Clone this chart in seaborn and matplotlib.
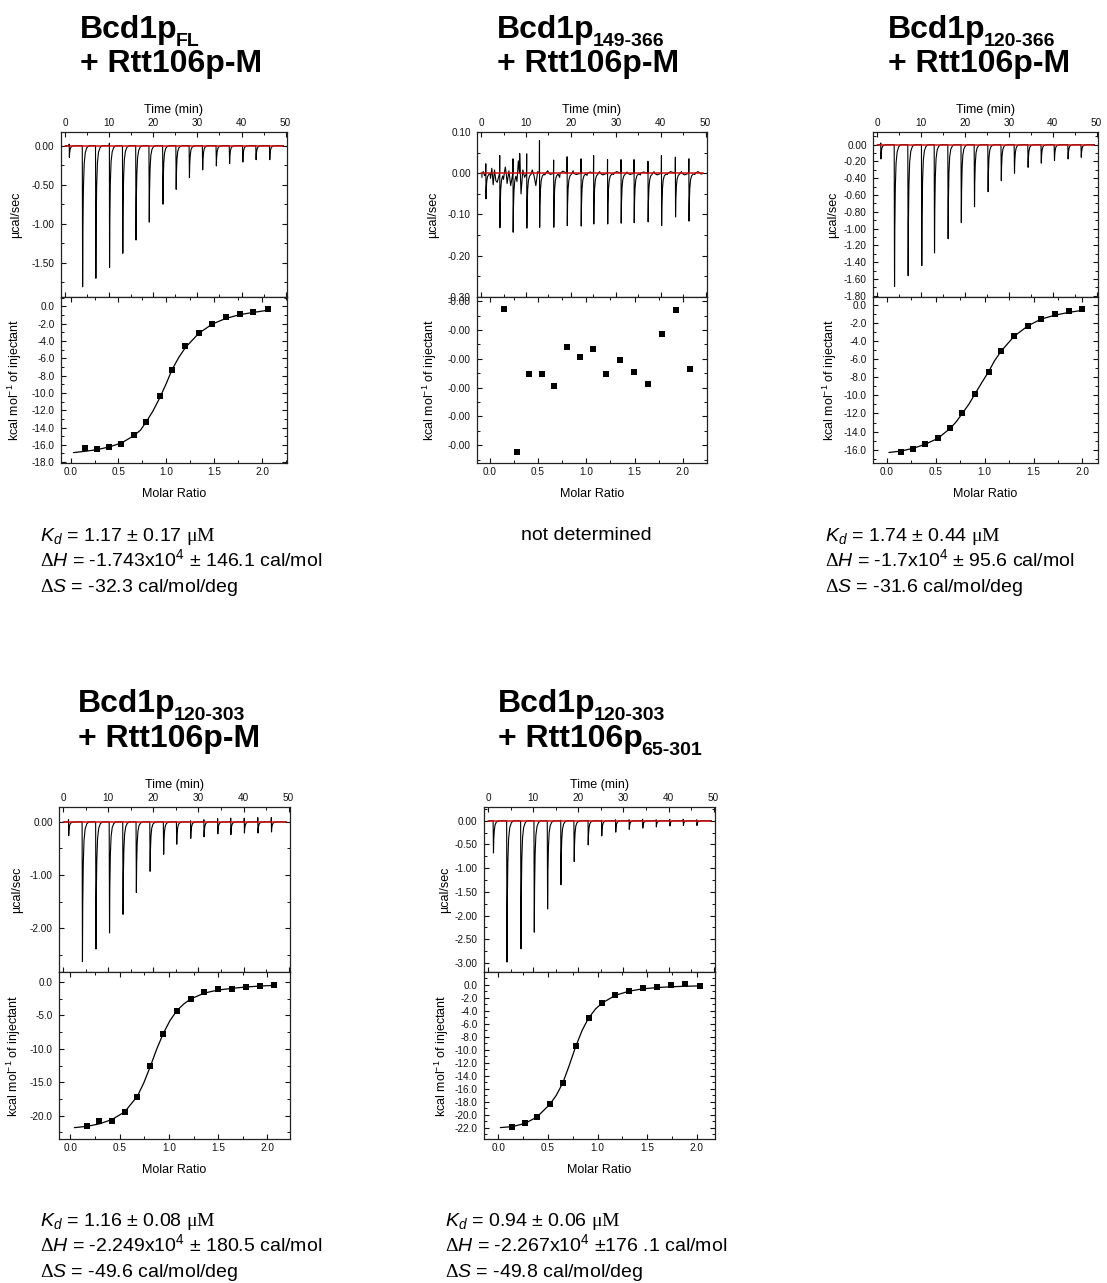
import numpy as np
import pandas as pd
import matplotlib
matplotlib.use("Agg")
import matplotlib.pyplot as plt
import seaborn as sns
from matplotlib.ticker import MultipleLocator, FixedLocator, FormatStrFormatter

# ======================= DATA =======================
# --- Panel A: Bcd1p_FL + Rtt106p-M
A_inj_time = [1.0, 4.0, 7.0, 10.1, 13.1, 16.1, 19.1, 22.2, 25.2, 28.2, 31.2, 34.3, 37.3, 40.3, 43.3, 46.4]
A_inj_peak = [-0.15, -1.81, -1.70, -1.56, -1.38, -1.21, -0.98, -0.75, -0.56, -0.41, -0.31, -0.26, -0.23, -0.21, -0.18, -0.18]
A_inj_up = [0.02, 0, 0, 0.03, 0, 0, 0, 0, 0, 0, 0, 0, 0, 0, 0, 0]
A_ratio = [0.15, 0.28, 0.40, 0.53, 0.66, 0.79, 0.93, 1.06, 1.20, 1.34, 1.48, 1.62, 1.77, 1.91, 2.06]
A_heat = [-16.4, -16.5, -16.2, -15.9, -14.9, -13.4, -10.4, -7.3, -4.6, -3.1, -2.0, -1.2, -0.9, -0.65, -0.27]
A_fit_ratio = [0.03, 0.15, 0.28, 0.40, 0.53, 0.66, 0.73, 0.79, 0.86, 0.93, 1.00, 1.06, 1.13, 1.20, 1.34, 1.48, 1.62, 1.77, 1.91, 2.06]
A_fit_heat = [-16.9, -16.75, -16.55, -16.25, -15.8, -14.95, -14.3, -13.35, -12.1, -10.6, -8.9, -7.3, -5.9, -4.75, -3.1, -2.05, -1.4, -0.95, -0.7, -0.45]

# --- Panel B: Bcd1p_149-366 + Rtt106p-M (no binding)
B_inj_time = [1.1, 4.2, 7.15, 10.2, 13.05, 16.2, 19.2, 22.3, 25.1, 28.2, 31.2, 34.1, 37.2, 40.2, 43.3, 46.3]
B_inj_peak = [-0.062, -0.132, -0.143, -0.133, -0.131, -0.131, -0.127, -0.128, -0.123, -0.123, -0.121, -0.120, -0.118, -0.127, -0.106, -0.116]
B_inj_up = [0.023, 0.043, 0.035, 0.047, 0.079, 0.032, 0.040, 0.035, 0.043, 0.033, 0.033, 0.033, 0.029, 0.043, 0.039, 0.035]
B_noise = [(0.2, -0.010), (0.5, 0.004), (0.8, -0.006),
           (1.5, -0.030), (1.8, 0.010), (2.1, -0.012), (2.4, 0.012), (2.7, -0.028), (3.0, 0.008), (3.3, -0.018), (3.6, -0.022),
           (4.6, 0.010), (5.0, -0.015), (5.4, 0.015), (5.8, -0.025), (6.2, 0.006), (6.6, -0.030),
           (7.6, 0.010), (8.0, -0.020), (8.3, 0.030), (8.6, 0.048), (8.9, -0.050), (9.3, 0.008), (9.7, -0.010),
           (10.6, 0.006), (11.0, -0.004), (11.4, 0.008), (11.8, -0.006), (12.2, -0.030), (12.6, 0.004),
           (13.6, 0.005), (14.2, -0.004), (14.8, 0.006), (15.4, -0.003),
           (16.8, 0.004), (17.5, -0.010), (18.2, 0.005),
           (19.8, -0.004), (20.5, 0.006), (21.2, -0.003),
           (22.9, 0.004), (23.6, -0.005), (24.3, 0.003),
           (25.7, -0.003), (26.4, 0.004), (27.1, -0.004),
           (28.8, 0.003), (29.5, -0.003), (30.2, 0.004),
           (31.8, -0.004), (32.5, 0.003), (33.2, -0.003),
           (34.8, 0.004), (35.5, -0.004), (36.2, 0.003),
           (37.8, -0.003), (38.5, 0.004), (39.2, -0.004),
           (40.8, 0.003), (41.5, -0.003), (42.2, 0.004),
           (43.9, -0.008), (44.6, 0.004), (45.3, -0.004),
           (46.9, 0.003), (47.6, -0.003), (48.3, 0.004), (49.0, -0.002)]
B_ratio = [0.15, 0.28, 0.405, 0.54, 0.67, 0.80, 0.94, 1.07, 1.21, 1.35, 1.49, 1.64, 1.78, 1.93, 2.07]
B_heat = [-0.000126, -0.000623, -0.000352, -0.000352, -0.000395, -0.000259, -0.000293, -0.000265,
          -0.000351, -0.000303, -0.000347, -0.000387, -0.000212, -0.000130, -0.000335]

# --- Panel C: Bcd1p_120-366 + Rtt106p-M
C_inj_time = [0.9, 4.0, 7.1, 10.2, 13.1, 16.2, 19.2, 22.2, 25.3, 28.3, 31.3, 34.4, 37.4, 40.4, 43.5, 46.5]
C_inj_peak = [-0.17, -1.69, -1.56, -1.44, -1.29, -1.12, -0.93, -0.74, -0.56, -0.43, -0.34, -0.27, -0.22, -0.19, -0.17, -0.15]
C_inj_up = [0.02, 0, 0, 0, 0, 0, 0, 0, 0, 0, 0, 0, 0, 0, 0, 0]
C_ratio = [0.14, 0.265, 0.39, 0.52, 0.646, 0.77, 0.90, 1.04, 1.17, 1.30, 1.44, 1.575, 1.72, 1.86, 2.0]
C_heat = [-16.2, -15.9, -15.4, -14.75, -13.6, -12.0, -9.8, -7.4, -5.1, -3.5, -2.3, -1.6, -1.0, -0.7, -0.48]
C_fit_ratio = [0.02, 0.14, 0.265, 0.39, 0.52, 0.646, 0.71, 0.77, 0.84, 0.90, 0.97, 1.04, 1.10, 1.17, 1.30, 1.44, 1.575, 1.72, 1.86, 2.0]
C_fit_heat = [-16.3, -16.15, -15.85, -15.4, -14.75, -13.65, -12.9, -12.0, -10.95, -9.85, -8.6, -7.4, -6.2, -5.1, -3.5, -2.35, -1.6, -1.15, -0.85, -0.62]

# --- Panel D: Bcd1p_120-303 + Rtt106p-M
D_inj_time = [1.25, 4.3, 7.3, 10.3, 13.3, 16.25, 19.3, 22.3, 25.2, 28.3, 31.25, 34.3, 37.2, 40.2, 43.2, 46.2]
D_inj_peak = [-0.26, -2.63, -2.39, -2.09, -1.74, -1.33, -0.93, -0.61, -0.42, -0.31, -0.28, -0.225, -0.24, -0.21, -0.21, -0.19]
D_inj_up = [0.04, 0, 0, 0, 0, 0, 0, 0, 0, 0.02, 0.04, 0.06, 0.07, 0.07, 0.08, 0.08]
D_ratio = [0.17, 0.29, 0.42, 0.55, 0.68, 0.81, 0.94, 1.08, 1.22, 1.36, 1.50, 1.64, 1.78, 1.93, 2.07]
D_heat = [-21.55, -20.85, -20.85, -19.45, -17.15, -12.6, -7.8, -4.4, -2.6, -1.5, -1.05, -1.0, -0.8, -0.6, -0.5]
D_fit_ratio = [0.04, 0.17, 0.29, 0.42, 0.55, 0.68, 0.745, 0.81, 0.875, 0.94, 1.01, 1.08, 1.15, 1.22, 1.36, 1.50, 1.64, 1.78, 1.93, 2.07]
D_fit_heat = [-21.8, -21.6, -21.25, -20.6, -19.45, -17.1, -15.1, -12.7, -10.1, -7.8, -5.8, -4.3, -3.3, -2.55, -1.65, -1.2, -0.95, -0.75, -0.6, -0.5]

# --- Panel E: Bcd1p_120-303 + Rtt106p_65-301
E_inj_time = [1.2, 4.2, 7.3, 10.25, 13.2, 16.15, 19.1, 22.2, 25.2, 28.3, 31.3, 34.3, 37.3, 40.3, 43.3, 46.3]
E_inj_peak = [-0.68, -2.98, -2.70, -2.35, -1.86, -1.35, -0.86, -0.51, -0.32, -0.24, -0.18, -0.155, -0.13, -0.11, -0.10, -0.10]
E_inj_up = [0, 0, 0, 0, 0, 0.01, 0, 0.01, 0.01, 0.02, 0.02, 0.03, 0.02, 0.03, 0.03, 0.02]
E_ratio = [0.14, 0.27, 0.39, 0.52, 0.65, 0.78, 0.91, 1.045, 1.18, 1.32, 1.455, 1.60, 1.74, 1.88, 2.03]
E_heat = [-21.95, -21.3, -20.35, -18.4, -15.1, -9.4, -5.1, -2.8, -1.5, -0.88, -0.41, -0.26, -0.05, 0.1, -0.1]
E_fit_ratio = [0.02, 0.14, 0.27, 0.39, 0.52, 0.585, 0.65, 0.715, 0.78, 0.845, 0.91, 0.98, 1.045, 1.18, 1.32, 1.455, 1.60, 1.74, 1.88, 2.03]
E_fit_heat = [-22.0, -21.85, -21.35, -20.35, -18.4, -17.0, -15.1, -12.4, -9.5, -7.0, -5.1, -3.7, -2.8, -1.6, -0.95, -0.6, -0.4, -0.28, -0.2, -0.15]

BASELINE_TIME = [0.0, 49.5]
BASELINE_POWER = [0.0, 0.0]

# injection peak shape template (style)
PEAK_DT = [-0.08, 0.0, 0.06, 0.18, 0.35, 0.6, 0.95, 1.4]
PEAK_FRAC = [0.0, 1.0, 0.6, 0.3, 0.13, 0.05, 0.015, 0.0]

# ======================= STYLE =======================
sns.set_theme(style="ticks")
plt.rcParams["font.family"] = ["Liberation Sans", "DejaVu Sans"]
plt.rcParams["mathtext.fontset"] = "custom"
plt.rcParams["mathtext.it"] = "Liberation Sans:italic"
plt.rcParams["mathtext.rm"] = "Liberation Serif"
plt.rcParams["mathtext.bf"] = "Liberation Sans:bold"
plt.rcParams["mathtext.sf"] = "Liberation Sans"
plt.rcParams["axes.linewidth"] = 0.9
plt.rcParams["axes.edgecolor"] = "#222222"
plt.rcParams["text.color"] = "black"
plt.rcParams["axes.labelcolor"] = "black"

W, H = 1107, 1283
fig = plt.figure(figsize=(W / 100, H / 100), dpi=100)
fig.patch.set_facecolor("white")

TICK_FS = 7.2
LABEL_FS = 9


def add_ax(x0, x1, y0, y1):
    return fig.add_axes([x0 / W, 1 - y1 / H, (x1 - x0) / W, (y1 - y0) / H])


def thermogram(times, peaks, ups, noise=()):
    pts = [(0.2, 0.0), (49.5, 0.0)]
    for t, d, u in zip(times, peaks, ups):
        if u:
            pts.append((t - 0.04, u))
        for dt, f in zip(PEAK_DT, PEAK_FRAC):
            pts.append((t + dt, d * f))
    for nt, nv in noise:
        if all(not (t - 0.15 <= nt <= t + 0.75) for t in times):
            pts.append((nt, nv))
    pts.sort()
    return pd.DataFrame(pts, columns=["time", "power"])


def ylabel_at(ax, px, left, width, text):
    ax.set_ylabel(text, fontsize=LABEL_FS)
    ax.yaxis.set_label_coords((px + 6 - left) / width, 0.5)


def top_panel(x0, x1, y0, y1, times, peaks, ups, ylim, yticks, yminor, noise=(), ylab_px=None):
    ax = add_ax(x0, x1, y0, y1)
    df = thermogram(times, peaks, ups, noise)
    sns.lineplot(data=df, x="time", y="power", ax=ax, color="black", lw=0.8,
                 sort=False, estimator=None)
    sns.lineplot(x=BASELINE_TIME, y=BASELINE_POWER, ax=ax, color="#d01010", lw=1.1,
                 sort=False, estimator=None)
    ax.set_xlim(-0.9, 50.3)
    ax.set_ylim(*ylim)
    ax.xaxis.set_major_locator(MultipleLocator(10))
    ax.xaxis.set_minor_locator(MultipleLocator(5))
    ax.yaxis.set_major_locator(FixedLocator(yticks))
    ax.yaxis.set_minor_locator(MultipleLocator(yminor))
    ax.yaxis.set_major_formatter(FormatStrFormatter("%.2f"))
    ax.xaxis.tick_top()
    ax.xaxis.set_label_position("top")
    ax.tick_params(which="both", direction="in", top=True, bottom=True, left=True, right=True,
                   labeltop=True, labelbottom=False, labelsize=TICK_FS, colors="#111111")
    ax.tick_params(which="major", length=3.5, width=0.8)
    ax.tick_params(which="minor", length=2, width=0.7)
    ax.tick_params(axis="x", pad=3)
    ax.tick_params(axis="y", pad=4.5)
    ax.set_xlabel("Time (min)", fontsize=LABEL_FS, labelpad=3.5)
    ylabel_at(ax, ylab_px, x0, x1 - x0, "µcal/sec")
    return ax


def bottom_panel(x0, x1, y0, y1, ratio, heat, fit_r, fit_h, xlim, ylim, yticks, yminor, fmt, ylab_px):
    ax = add_ax(x0, x1, y0, y1)
    if fit_r is not None:
        sns.lineplot(x=fit_r, y=fit_h, ax=ax, color="black", lw=0.9, sort=False, estimator=None)
    sns.scatterplot(x=ratio, y=heat, ax=ax, marker="s", s=24, color="black",
                    edgecolor="black", linewidth=0, zorder=3)
    ax.set_xlim(*xlim)
    ax.set_ylim(*ylim)
    ax.xaxis.set_major_locator(MultipleLocator(0.5))
    ax.xaxis.set_minor_locator(MultipleLocator(0.25))
    ax.xaxis.set_major_formatter(FormatStrFormatter("%.1f"))
    ax.yaxis.set_major_locator(FixedLocator(yticks))
    ax.yaxis.set_minor_locator(MultipleLocator(yminor))
    ax.yaxis.set_major_formatter(FormatStrFormatter(fmt))
    ax.tick_params(which="both", direction="in", top=True, bottom=True, left=True, right=True,
                   labelsize=TICK_FS, colors="#111111")
    ax.tick_params(which="major", length=3.5, width=0.8)
    ax.tick_params(which="minor", length=2, width=0.7)
    ax.tick_params(axis="x", pad=3)
    ax.tick_params(axis="y", pad=4.5)
    ax.set_xlabel("Molar Ratio", fontsize=LABEL_FS, labelpad=8)
    ylabel_at(ax, ylab_px, x0, x1 - x0, r"kcal mol$^{\mathsf{-1}}$ of injectant")
    return ax


# ---------------- Panel A ----------------
top_panel(61, 287, 132, 297, A_inj_time, A_inj_peak, A_inj_up,
          (-1.94, 0.175), [0.0, -0.5, -1.0, -1.5], 0.25, ylab_px=16)
bottom_panel(61, 287, 297, 463, A_ratio, A_heat, A_fit_ratio, A_fit_heat,
             (-0.10, 2.26), (-18.1, 1.08), list(np.arange(0, -18.1, -2.0)), 1.0, "%.1f", 18)

# ---------------- Panel B ----------------
top_panel(477, 707, 132, 297, B_inj_time, B_inj_peak, B_inj_up,
          (-0.30, 0.10), [0.10, 0.0, -0.10, -0.20, -0.30], 0.05, noise=B_noise, ylab_px=433)
bottom_panel(477, 707, 297, 463, B_ratio, B_heat, None, None,
             (-0.13, 2.25), (-0.000662, -0.000085),
             [-0.0001, -0.0002, -0.0003, -0.0004, -0.0005, -0.0006], 0.00005, "%.2f", 433)

# ---------------- Panel C ----------------
top_panel(873, 1098, 132, 297, C_inj_time, C_inj_peak, C_inj_up,
          (-1.815, 0.151), list(np.round(np.arange(0, -1.81, -0.2), 2)), 0.1, ylab_px=833)
bottom_panel(873, 1098, 297, 463, C_ratio, C_heat, C_fit_ratio, C_fit_heat,
             (-0.143, 2.16), (-17.46, 0.85), list(np.arange(0, -16.1, -2.0)), 1.0, "%.1f", 833)

# ---------------- Panel D ----------------
top_panel(59, 290, 807, 972, D_inj_time, D_inj_peak, D_inj_up,
          (-2.825, 0.28), [0.0, -1.0, -2.0], 0.5, ylab_px=17)
bottom_panel(59, 290, 972, 1139, D_ratio, D_heat, D_fit_ratio, D_fit_heat,
             (-0.116, 2.23), (-23.5, 1.5), [0.0, -5.0, -10.0, -15.0, -20.0], 2.5, "%.1f", 17)

# ---------------- Panel E ----------------
top_panel(484, 715, 807, 972, E_inj_time, E_inj_peak, E_inj_up,
          (-3.19, 0.29), list(np.arange(0, -3.01, -0.5)), 0.25, ylab_px=445)
bottom_panel(484, 715, 972, 1139, E_ratio, E_heat, E_fit_ratio, E_fit_heat,
             (-0.145, 2.185), (-23.76, 2.0), list(np.arange(0, -22.1, -2.0)), 1.0, "%.1f", 445)

# ======================= TITLES =======================
TITLE_FS = 23
SUB_FS = 14
renderer = fig.canvas.get_renderer()


def bold_with_sub(x, y, main, sub):
    t = fig.text(x / W, 1 - y / H, main, fontsize=TITLE_FS, fontweight="bold",
                 ha="left", va="baseline", color="black")
    if sub:
        bb = t.get_window_extent(renderer)
        fig.text((bb.x1 - 2) / W, 1 - (y + 8) / H, sub, fontsize=SUB_FS, fontweight="bold",
                 ha="left", va="baseline", color="black")


bold_with_sub(80, 38, "Bcd1p", "FL")
bold_with_sub(80, 72, "+ Rtt106p-M", None)
bold_with_sub(497, 38, "Bcd1p", "149-366")
bold_with_sub(497, 72, "+ Rtt106p-M", None)
bold_with_sub(888, 38, "Bcd1p", "120-366")
bold_with_sub(888, 72, "+ Rtt106p-M", None)
bold_with_sub(78, 712, "Bcd1p", "120-303")
bold_with_sub(78, 747, "+ Rtt106p-M", None)
bold_with_sub(498, 712, "Bcd1p", "120-303")
bold_with_sub(498, 747, "+ Rtt106p", "65-301")

# ======================= ANNOTATIONS =======================
ANN_FS = 14


def annot(x, y, lines):
    for i, s in enumerate(lines):
        fig.text(x / W, 1 - (y + i * 25.5) / H, s, fontsize=ANN_FS, ha="left", va="baseline",
                 color="black")


annot(40, 541, [r"$K_d$ = 1.17 ± 0.17 $\mathrm{\mu M}$",
                r"$\mathit{\Delta H}$ = -1.743x10$^{\mathsf{4}}$ ± 146.1 cal/mol",
                r"$\mathit{\Delta S}$ = -32.3 cal/mol/deg"])
fig.text(586 / W, 1 - 540 / H, "not determined", fontsize=ANN_FS, ha="center", va="baseline",
         color="black")
annot(825, 541, [r"$K_d$ = 1.74 ± 0.44 $\mathrm{\mu M}$",
                 r"$\mathit{\Delta H}$ = -1.7x10$^{\mathsf{4}}$ ± 95.6 cal/mol",
                 r"$\mathit{\Delta S}$ = -31.6 cal/mol/deg"])
annot(40, 1226, [r"$K_d$ = 1.16 ± 0.08 $\mathrm{\mu M}$",
                 r"$\mathit{\Delta H}$ = -2.249x10$^{\mathsf{4}}$ ± 180.5 cal/mol",
                 r"$\mathit{\Delta S}$ = -49.6 cal/mol/deg"])
annot(445, 1226, [r"$K_d$ = 0.94 ± 0.06 $\mathrm{\mu M}$",
                  r"$\mathit{\Delta H}$ = -2.267x10$^{\mathsf{4}}$ ±176 .1 cal/mol",
                  r"$\mathit{\Delta S}$ = -49.8 cal/mol/deg"])

fig.savefig("out.png", dpi=100, facecolor="white")
